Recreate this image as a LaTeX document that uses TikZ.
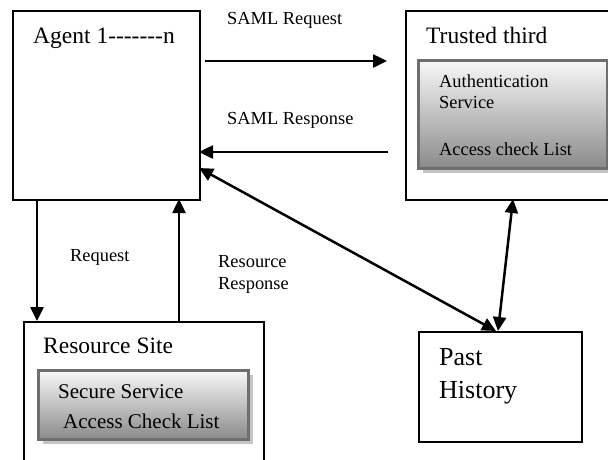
\documentclass[tikz,border=0pt]{standalone}
\usepackage{fontspec}
\setmainfont{Liberation Serif}
\usetikzlibrary{arrows.meta,shadows}
\definecolor{panelEdge}{HTML}{6E6E6E}
\definecolor{panelTop}{HTML}{F8F8F8}
\definecolor{panelBot}{HTML}{8A8A8A}
\definecolor{panelShade}{HTML}{C4C4C4}
\begin{document}
\begin{tikzpicture}[x=1pt,y=-1pt,
  box/.style={draw=black, line width=2.1pt, inner sep=0pt, anchor=north west},
  panel/.style={draw=panelEdge, line width=2.6pt, inner sep=0pt, anchor=north west,
    top color=panelTop, bottom color=panelBot,
    general shadow={fill=panelShade, shadow xshift=4.5pt, shadow yshift=-4.5pt}},
  lbl/.style={anchor=base west, inner sep=0pt, text=black},
  big/.style={lbl, font=\fontsize{23.5}{26}\selectfont},
  mid/.style={lbl, font=\fontsize{18.4}{21}\selectfont},
  inner/.style={lbl, font=\fontsize{21}{24}\selectfont},
  huge/.style={lbl, font=\fontsize{26}{30}\selectfont},
  flow/.style={line width=2.5pt, -{Triangle[length=14pt,width=13pt]}},
  both/.style={line width=2.5pt, {Triangle[length=14pt,width=13pt]}-{Triangle[length=14pt,width=13pt]}}]
\useasboundingbox (0,0) rectangle (608,459);

% boxes
\node[box, minimum width=187, minimum height=189] (agent) at (12,10) {};
\node[box, minimum width=215, minimum height=189] (trusted) at (405,10) {};
\node[box, minimum width=240, minimum height=160] (site) at (23,321) {};
\node[box, minimum width=163, minimum height=110] (past) at (418,331) {};

% shaded service panels
\node[panel, minimum width=189, minimum height=108] (auth) at (417,59) {};
\node[panel, minimum width=210, minimum height=69] (secure) at (37,369) {};

% box titles and contents
\node[big] (agentT) at (33,43) {Agent 1-{}-{}-{}-{}-{}-{}-n};
\node[big] (trustT) at (426,43) {Trusted third};
\node[big] (siteT) at (43,353) {Resource Site};
\node[mid] (authA) at (439,87) {Authentication};
\node[mid] (authB) at (439,108) {Service};
\node[mid] (authC) at (439,155) {Access check List};
\node[inner] (secA) at (58,398) {Secure Service};
\node[inner] (secB) at (63,428) {Access Check List};
\node[huge] (pastA) at (439,365) {Past};
\node[huge] (pastB) at (439,398) {History};

% connector labels
\node[mid] (lReq) at (227,24) {SAML Request};
\node[mid] (lResp) at (227,124) {SAML Response};
\node[mid] (lR) at (70,261) {Request};
\node[mid] (lRRa) at (218,267) {Resource};
\node[mid] (lRRb) at (218,289) {Response};

% connector end points
\coordinate (samlReqS) at (205,61);
\coordinate (samlReqE) at (387,61);
\coordinate (samlRespS) at (388,152);
\coordinate (samlRespE) at (199,152);
\coordinate (diagA) at (199,168);
\coordinate (diagB) at (496,331);
\coordinate (vertA) at (513,199);
\coordinate (vertB) at (498,331);
\coordinate (reqA) at (37,199);
\coordinate (reqB) at (37,321);
\coordinate (rrA) at (179,321);
\coordinate (rrB) at (179,199);

% connectors
\draw[flow] (samlReqS) -- (samlReqE);
\draw[flow] (samlRespS) -- (samlRespE);
\draw[both] (diagA) -- (diagB);
\draw[both] (vertA) -- (vertB);
\draw[flow] (reqA) -- (reqB);
\draw[flow] (rrA) -- (rrB);
\end{tikzpicture}
\end{document}
